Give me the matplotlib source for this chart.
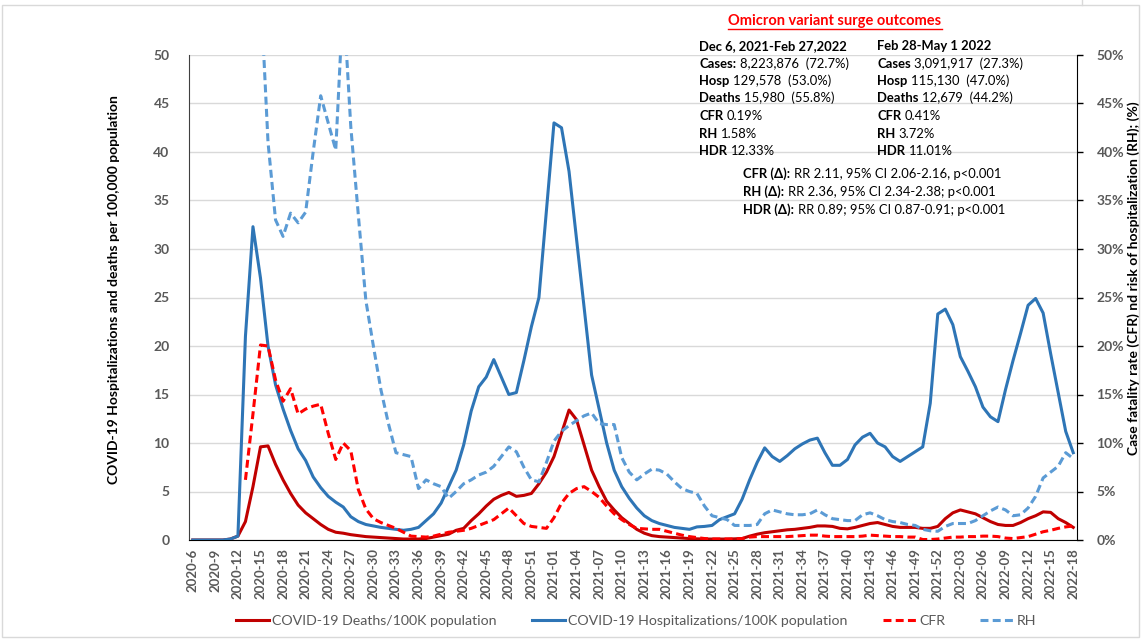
import numpy as np
import matplotlib
matplotlib.use("Agg")
import matplotlib.pyplot as plt
from matplotlib.lines import Line2D
from matplotlib.patches import Rectangle

plt.rcParams['font.family'] = ['Lato', 'DejaVu Sans']

# ---------------- data ----------------
weeks = ([f"2020-{w}" for w in range(6, 54)] +
         [f"2021-{w:02d}" for w in range(1, 53)] +
         [f"2022-{w:02d}" for w in range(1, 19)])

hosp = [0, 0, 0, 0, 0, 0.1, 0.4, 21, 32.3, 27, 20, 16, 13.5, 11.3, 9.4, 8.2, 6.5, 5.4, 4.5, 3.9,
        3.4, 2.4, 1.9, 1.6, 1.45, 1.3, 1.2, 1.1, 1.0, 1.1, 1.3, 2.0, 2.7, 3.8, 5.5, 7.2, 9.8, 13.3, 15.8, 16.8,
        18.6, 16.8, 15.0, 15.2, 18.5, 22, 25, 34, 43, 42.5, 38, 31, 24, 17, 13.5, 10, 7.2, 5.5, 4.3, 3.3,
        2.5, 2.0, 1.7, 1.5, 1.3, 1.2, 1.1, 1.35, 1.4, 1.5, 2.1, 2.4, 2.7, 4.2, 6.2, 8, 9.5, 8.6, 8.1, 8.7,
        9.4, 9.9, 10.3, 10.5, 9, 7.7, 7.7, 8.3, 9.8, 10.6, 11, 10, 9.6, 8.6, 8.1, 8.6, 9.1, 9.6, 14.1, 23.3,
        23.8, 22.2, 18.9, 17.4, 15.8, 13.7, 12.7, 12.2, 15.5, 18.5, 21.3, 24.2, 24.9, 23.4, 19.2, 15.2, 11.2, 9]

deaths = [0, 0, 0, 0, 0, 0.1, 0.4, 1.9, 5.5, 9.6, 9.7, 7.8, 6.2, 4.8, 3.6, 2.8, 2.2, 1.6, 1.1, 0.8,
          0.7, 0.55, 0.45, 0.35, 0.3, 0.25, 0.2, 0.15, 0.1, 0.1, 0.1, 0.15, 0.3, 0.45, 0.6, 1.0, 1.2, 2.0, 2.7, 3.5,
          4.2, 4.6, 4.9, 4.5, 4.6, 4.8, 5.8, 7.0, 8.6, 11, 13.4, 12.4, 9.8, 7.2, 5.5, 4.0, 3.1, 2.3, 1.7, 1.1,
          0.7, 0.45, 0.35, 0.3, 0.25, 0.2, 0.15, 0.12, 0.1, 0.1, 0.1, 0.1, 0.12, 0.15, 0.4, 0.6, 0.75, 0.85, 0.95, 1.05,
          1.1, 1.2, 1.3, 1.45, 1.45, 1.4, 1.2, 1.15, 1.3, 1.5, 1.7, 1.8, 1.6, 1.4, 1.3, 1.3, 1.3, 1.2, 1.2, 1.4,
          2.2, 2.8, 3.1, 2.9, 2.7, 2.3, 1.9, 1.6, 1.5, 1.5, 1.8, 2.2, 2.5, 2.9, 2.85, 2.2, 1.8, 1.3]

cfr = [None, None, None, None, None, None, None, 6.2, 13, 20.1, 20.0, 16.5, 14.3, 15.6, 13.0, 13.5, 13.8, 14.0, 11, 8.3,
       10.0, 9.2, 5.2, 3.2, 2.2, 1.8, 1.5, 1.2, 0.8, 0.4, 0.35, 0.3, 0.4, 0.6, 0.8, 0.9, 1.0, 1.2, 1.5, 1.8,
       2.1, 2.7, 3.3, 2.5, 1.7, 1.4, 1.3, 1.2, 2.3, 3.8, 4.8, 5.3, 5.5, 5.0, 4.4, 3.5, 2.7, 2.1, 1.6, 1.2,
       1.15, 1.1, 1.1, 0.9, 0.7, 0.5, 0.35, 0.25, 0.15, 0.1, 0.1, 0.1, 0.1, 0.15, 0.3, 0.35, 0.35, 0.35, 0.35, 0.35,
       0.4, 0.45, 0.5, 0.5, 0.4, 0.35, 0.35, 0.35, 0.35, 0.4, 0.5, 0.45, 0.4, 0.35, 0.35, 0.3, 0.3, 0.05, 0.05, 0.1,
       0.2, 0.3, 0.3, 0.35, 0.35, 0.4, 0.4, 0.35, 0.2, 0.15, 0.25, 0.35, 0.6, 0.85, 1.0, 1.2, 1.35, 1.45]

rh = [None, None, None, None, None, None, None, 100, 80, 57, 41, 33, 31.3, 33.7, 32.7, 33.8, 40, 45.8, 43, 40.2,
      56, 42.6, 33.5, 24.7, 20, 15.5, 12, 9.0, 8.8, 8.6, 5.3, 6.2, 5.8, 5.5, 4.3, 5.0, 5.8, 6.2, 6.7, 7.0,
      7.6, 8.6, 9.6, 9.1, 7.5, 6.2, 6.0, 8.0, 10.2, 11.2, 11.8, 12.3, 12.8, 13.1, 12.0, 11.9, 11.9, 8.5, 7.0, 6.2,
      6.8, 7.3, 7.2, 6.8, 6.0, 5.3, 5.0, 4.8, 3.5, 2.5, 2.3, 2.1, 1.5, 1.5, 1.5, 1.6, 2.7, 3.1, 2.9, 2.7,
      2.6, 2.6, 2.7, 3.1, 2.6, 2.2, 2.1, 2.0, 2.0, 2.6, 2.8, 2.5, 2.1, 1.9, 1.8, 1.6, 1.5, 1.1, 0.95, 0.9,
      1.4, 1.7, 1.7, 1.7, 2.0, 2.5, 3.0, 3.4, 3.1, 2.5, 2.6, 3.3, 4.5, 6.4, 7.0, 7.6, 9.0, 8.4]

series_names = ["COVID-19 Deaths/100K population", "COVID-19 Hospitalizations/100K population", "CFR", "RH"]

# ---------------- figure ----------------
W, H = 1141, 639
fig = plt.figure(figsize=(W / 100, H / 100), dpi=100)
fig.patch.set_facecolor("white")

def fx(px):
    return px / W

def fy(py):
    return 1 - py / H

ax_l, ax_r, ax_t, ax_b = 189, 1077, 55, 540
ax = fig.add_axes([fx(ax_l), fy(ax_b), fx(ax_r) - fx(ax_l), fy(ax_t) - fy(ax_b)])
ax2 = ax.twinx()

x = np.arange(len(weeks))
DARKRED = "#C00000"
BLUE = "#2E75B6"
RED = "#FF0000"
LBLUE = "#5B9BD5"
GREY = "#595959"
dash = (0, (2.6, 1.4))

ax.plot(x, np.array(deaths, dtype=float), color=DARKRED, lw=2.2, solid_joinstyle="round", zorder=3)
ax.plot(x, np.array(hosp, dtype=float), color=BLUE, lw=2.2, solid_joinstyle="round", zorder=3)
ax2.plot(x, np.array(cfr, dtype=float), color=RED, lw=2.2, linestyle=dash, zorder=3)
ax2.plot(x, np.array(rh, dtype=float), color=LBLUE, lw=2.2, linestyle=dash, zorder=3)

for a in (ax, ax2):
    a.set_xlim(-0.5, len(weeks) - 0.5)
    a.set_ylim(0, 50)

ax.set_yticks(np.arange(0, 51, 5))
ax.set_yticklabels([str(v) for v in range(0, 51, 5)])
ax2.set_yticks(np.arange(0, 51, 5))
ax2.set_yticklabels([f"{v}%" for v in range(0, 51, 5)])

ax.grid(axis="y", color="#D9D9D9", lw=1.0)
ax.set_axisbelow(True)

ax.set_xticks(x[::3])
ax.set_xticklabels(weeks[::3], rotation=90, color=GREY, fontsize=9.5, fontweight="bold")
ax.tick_params(axis="x", length=0, pad=6)
ax.tick_params(axis="y", length=0, pad=14, labelcolor=GREY, labelsize=10)
for lab in ax.get_yticklabels():
    lab.set_fontweight("bold")
ax2.tick_params(axis="y", length=4, width=1, direction="out", color="black", pad=10,
                labelcolor=GREY, labelsize=10)
for lab in ax2.get_yticklabels():
    lab.set_fontweight("bold")

for a in (ax, ax2):
    a.spines["top"].set_visible(False)
ax.spines["left"].set_color("#404040")
ax.spines["bottom"].set_color("black")
ax2.spines["left"].set_visible(False)
ax2.spines["bottom"].set_visible(False)
ax2.spines["right"].set_color("black")
ax.spines["right"].set_visible(False)

ax.set_ylabel("COVID-19 Hospitalizations and deaths per 100,000 population",
              fontsize=10, fontweight="bold", color="black")
ax.yaxis.set_label_coords((120 - ax_l) / (ax_r - ax_l), (ax_b - 290) / (ax_b - ax_t))
ax2.set_ylabel("Case fatality rate (CFR) nd risk of hospitalization (RH); (%)",
               fontsize=10, fontweight="bold", color="black")
ax2.yaxis.set_label_coords((1127 - ax_l) / (ax_r - ax_l), (ax_b - 278) / (ax_b - ax_t))

# legend
handles = [Line2D([], [], color=DARKRED, lw=2.2),
           Line2D([], [], color=BLUE, lw=2.2),
           Line2D([], [], color=RED, lw=2.2, linestyle=dash),
           Line2D([], [], color=LBLUE, lw=2.2, linestyle=dash)]
leg = fig.legend(handles, series_names, loc="center", bbox_to_anchor=(fx(636), fy(621)),
                 ncol=4, frameon=False, fontsize=10.2, handlelength=2.35, handletextpad=0.25,
                 columnspacing=2.45)
for t in leg.get_texts():
    t.set_color(GREY)

# ---------------- annotation text ----------------
fig.canvas.draw()
renderer = fig.canvas.get_renderer()
FS = 9.4

def rich(px, py, parts, fs=FS, color="black"):
    xcur = px
    for s, w in parts:
        t = fig.text(fx(xcur), fy(py), s, fontsize=fs, fontweight=w, color=color,
                     va="baseline", ha="left")
        bb = t.get_window_extent(renderer)
        xcur = bb.x1 + 3.5
    return xcur

title = fig.text(fx(835), fy(25), "Omicron variant surge outcomes", fontsize=10.5,
                 fontweight="bold", color=RED, ha="center", va="baseline")
bb = title.get_window_extent(renderer)
fig.add_artist(Line2D([fx(bb.x0), fx(bb.x1)], [fy(28.5), fy(28.5)], color=RED, lw=1.0,
                      transform=fig.transFigure))

B, N = "bold", "normal"
rows_left = [
    [("Dec 6, 2021-Feb 27,2022", B)],
    [("Cases:", B), ("8,223,876  (72.7%)", N)],
    [("Hosp", B), ("129,578  (53.0%)", N)],
    [("Deaths", B), ("15,980  (55.8%)", N)],
    [("CFR", B), ("0.19%", N)],
    [("RH", B), ("1.58%", N)],
    [("HDR", B), ("12.33%", N)],
]
rows_right = [
    [("Feb 28-May 1 2022", B)],
    [("Cases", B), ("3,091,917  (27.3%)", N)],
    [("Hosp", B), ("115,130  (47.0%)", N)],
    [("Deaths", B), ("12,679  (44.2%)", N)],
    [("CFR", B), ("0.41%", N)],
    [("RH", B), ("3.72%", N)],
    [("HDR", B), ("11.01%", N)],
]
row_y = [50, 67.5, 85, 102.5, 120, 138, 155]
for yy, rl, rr in zip(row_y, rows_left, rows_right):
    rich(699, yy, rl)
    rich(877, yy, rr)

rows_delta = [
    [("CFR (Δ):", B), ("RR 2.11, 95% CI 2.06-2.16, p<0.001", N)],
    [("RH (Δ):", B), ("RR 2.36, 95% CI 2.34-2.38; p<0.001", N)],
    [("HDR (Δ):", B), ("RR 0.89; 95% CI 0.87-0.91; p<0.001", N)],
]
for yy, r in zip([178, 196, 213.5], rows_delta):
    rich(743, yy, r)

# outer frame
fig.add_artist(Rectangle((fx(2), fy(637)), fx(1139) - fx(2), fy(5) - fy(637),
                         transform=fig.transFigure, fill=False, edgecolor="#D9D9D9", lw=1.0))
fig.add_artist(Line2D([fx(1082), fx(1082)], [fy(0), fy(5)], color="#D9D9D9", lw=1.0,
                      transform=fig.transFigure))

fig.savefig("out.png", dpi=100)
